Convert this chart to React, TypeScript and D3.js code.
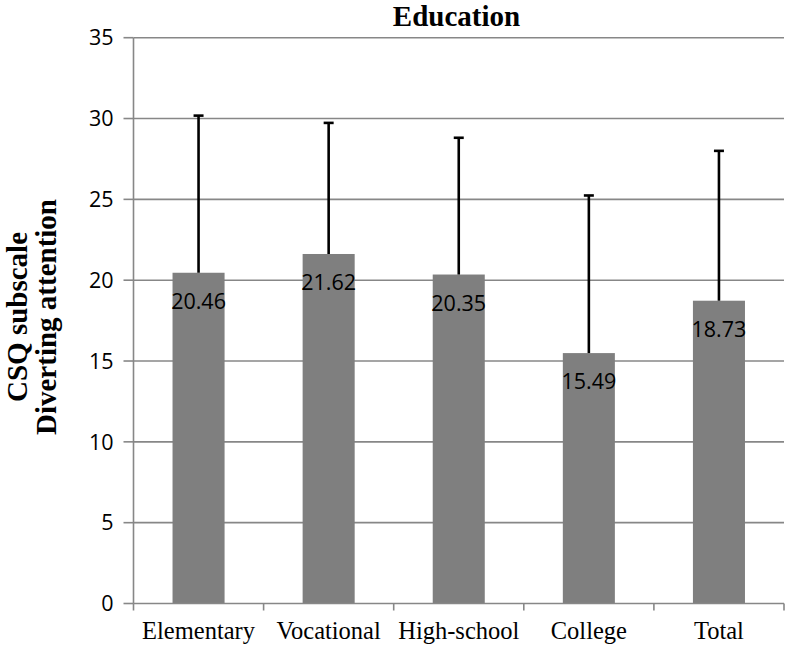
import React from "react";
import * as d3 from "d3";

const categories = ["Elementary", "Vocational", "High-school", "College", "Total"];
const means = [20.46, 21.62, 20.35, 15.49, 18.73];
const sds = [9.72, 8.11, 8.46, 9.75, 9.27];
const yTicks = [0, 5, 10, 15, 20, 25, 30, 35];
const title = "Education";
const yTitle = ["CSQ subscale", "Diverting attention"];

const W = 786;
const H = 648;
const left = 133.5;
const right = 784;
const top = 37.7;
const bottom = 603.5;
const grid = "#878787";
const barColor = "#7f7f7f";
const sansFont = "'Open Sans', 'Noto Sans', sans-serif";
const serifFont = "'Liberation Serif', 'Times New Roman', serif";

export default function App() {
  const x = d3.scaleBand<string>().domain(categories).range([left, right]).padding(0);
  const y = d3.scaleLinear().domain([0, 35]).range([bottom, top]);
  const bw = x.bandwidth() * 0.4;
  const capW = 10;

  return (
    <svg width={W} height={H} style={{ position: "absolute", left: 0, top: 0, background: "#fff" }}>
      {/* gridlines */}
      {yTicks.filter((t) => t > 0).map((t) => (
        <line key={"g" + t} x1={left} x2={right} y1={y(t)} y2={y(t)} stroke={grid} strokeWidth={1.6} />
      ))}
      {/* y axis */}
      <line x1={left} x2={left} y1={top} y2={bottom} stroke={grid} strokeWidth={1.6} />
      {yTicks.map((t) => (
        <g key={"t" + t}>
          <line x1={left - 10} x2={left} y1={y(t)} y2={y(t)} stroke={grid} strokeWidth={1.6} />
          <text x={left - 20} y={y(t)} dy="0.36em" textAnchor="end" fontFamily={sansFont} fontSize={21.5} fill="#000">
            {t}
          </text>
        </g>
      ))}
      {/* bars */}
      {categories.map((c, i) => {
        const cx = (x(c) as number) + x.bandwidth() / 2;
        return (
          <rect key={"b" + c} x={cx - bw / 2} y={y(means[i])} width={bw} height={y(0) - y(means[i])} fill={barColor} />
        );
      })}
      {/* x axis */}
      <line x1={left} x2={right} y1={bottom} y2={bottom} stroke={grid} strokeWidth={1.6} />
      {categories.map((c) => (
        <line key={"xt" + c} x1={x(c) as number} x2={x(c) as number} y1={bottom} y2={bottom + 7} stroke={grid} strokeWidth={1.6} />
      ))}
      <line x1={right} x2={right} y1={bottom} y2={bottom + 7} stroke={grid} strokeWidth={1.6} />
      {/* error bars */}
      {categories.map((c, i) => {
        const cx = (x(c) as number) + x.bandwidth() / 2;
        const yt = y(means[i] + sds[i]);
        return (
          <g key={"e" + c}>
            <line x1={cx} x2={cx} y1={y(means[i])} y2={yt} stroke="#000" strokeWidth={2.6} />
            <line x1={cx - capW / 2} x2={cx + capW / 2} y1={yt} y2={yt} stroke="#000" strokeWidth={2.6} />
          </g>
        );
      })}
      {/* value labels */}
      {categories.map((c, i) => {
        const cx = (x(c) as number) + x.bandwidth() / 2;
        return (
          <text key={"v" + c} x={cx} y={y(means[i]) + 36} textAnchor="middle" fontFamily={sansFont} fontSize={21.5} fill="#000">
            {means[i].toFixed(2)}
          </text>
        );
      })}
      {/* x labels */}
      {categories.map((c) => (
        <text key={"xl" + c} x={(x(c) as number) + x.bandwidth() / 2} y={639} textAnchor="middle" fontFamily={serifFont} fontSize={24.5} fill="#000">
          {c}
        </text>
      ))}
      {/* title */}
      <text x={456.5} y={26} textAnchor="middle" fontFamily={serifFont} fontSize={29} fontWeight="bold" fill="#000">
        {title}
      </text>
      {/* y title */}
      <g transform="translate(0,317) rotate(-90)">
        <text x={0} y={27} textAnchor="middle" fontFamily={serifFont} fontSize={29} fontWeight="bold" fill="#000">
          {yTitle[0]}
        </text>
        <text x={0} y={56} textAnchor="middle" fontFamily={serifFont} fontSize={29} fontWeight="bold" fill="#000">
          {yTitle[1]}
        </text>
      </g>
    </svg>
  );
}
